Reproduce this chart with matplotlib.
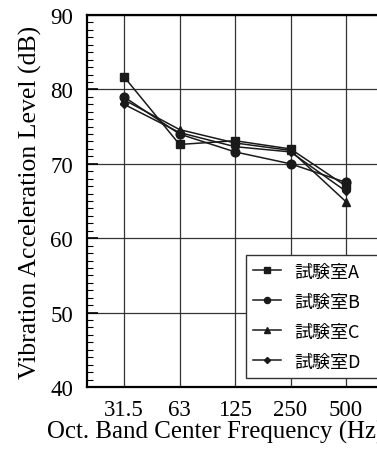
import matplotlib
matplotlib.use("Agg")
import matplotlib.pyplot as plt
from matplotlib.ticker import MultipleLocator

categories = ["31.5", "63", "125", "250", "500"]
lab_a = [81.7, 72.6, 73.1, 72.0, 67.0]
lab_b = [79.0, 74.0, 71.6, 70.0, 67.5]
lab_c = [78.6, 74.6, 72.8, 71.8, 64.9]
lab_d = [78.0, 74.2, 72.3, 71.6, 66.3]
series_names = ["試験室A", "試験室B", "試験室C", "試験室D"]

W, H = 377, 452
fig = plt.figure(figsize=(W / 100, H / 100), dpi=100)
left, right, top, bottom = 87, 400, 16, 388
ax = fig.add_axes([left / W, 1 - bottom / H, (right - left) / W, (bottom - top) / H])

x = list(range(len(categories)))
styles = [("s", 6.3), ("o", 6.3), ("^", 6.3), ("D", 4.4)]
for vals, name, (m, ms) in zip([lab_a, lab_b, lab_c, lab_d], series_names, styles):
    ax.plot(x, vals, color="#1a1a1a", lw=1.1, marker=m, markersize=ms, label=name)

ax.set_xlim(-0.667, (right - 124) / 55.5)
ax.set_ylim(40, 90)
ax.set_xticks(x)
ax.set_xticklabels(categories)
ax.yaxis.set_major_locator(MultipleLocator(10))
ax.yaxis.set_minor_locator(MultipleLocator(1))
ax.grid(True, which="major", color="#333333", lw=0.9)
ax.tick_params(axis="y", which="major", direction="in", length=8, width=1.2, pad=10)
ax.tick_params(axis="y", which="minor", direction="in", length=4, width=0.8)
ax.tick_params(axis="x", which="major", length=0, pad=9)
for lbl in ax.get_xticklabels() + ax.get_yticklabels():
    lbl.set_fontfamily("Liberation Serif")
    lbl.set_fontsize(16.5)
for s in ["left", "bottom", "top"]:
    ax.spines[s].set_linewidth(1.6)
ax.spines["right"].set_visible(False)

ax.set_ylabel("Vibration Acceleration Level (dB)", fontfamily="Liberation Serif", fontsize=18.5, labelpad=6)
fig.text(47 / W, 1 - 439 / H, "Oct. Band Center Frequency (Hz)", fontfamily="Liberation Serif",
         fontsize=17.9, ha="left", va="baseline")

bx0 = (246 - left) / (right - left)
by0 = (bottom - 379) / (bottom - top)
leg = ax.legend(loc="lower left", bbox_to_anchor=(bx0, by0, 1.0 - bx0, 0.4), mode="expand",
                prop={"family": ["Noto Sans CJK JP", "DejaVu Sans"], "size": 13},
                frameon=True, fancybox=False, edgecolor="#333333", framealpha=1,
                markerscale=0.7, handlelength=1.55, labelspacing=0.67, borderpad=0.4,
                handletextpad=0.72, borderaxespad=0)
leg.get_frame().set_linewidth(1.0)

fig.savefig("out.png", dpi=100)
